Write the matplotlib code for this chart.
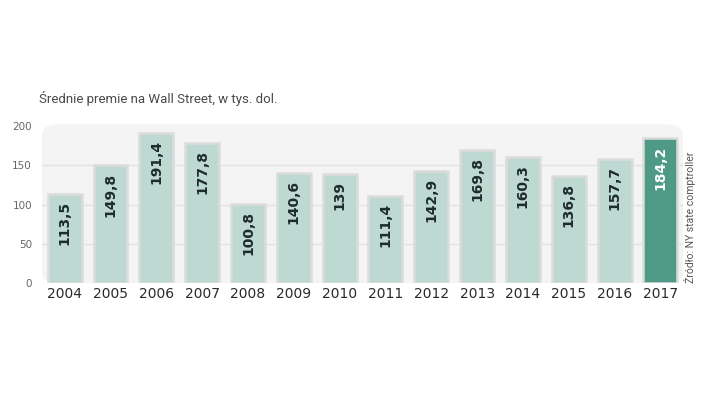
import matplotlib.pyplot as plt
from matplotlib import font_manager
from matplotlib.patches import FancyBboxPatch

years = ["2004", "2005", "2006", "2007", "2008", "2009", "2010",
         "2011", "2012", "2013", "2014", "2015", "2016", "2017"]
bonus = [113.5, 149.8, 191.4, 177.8, 100.8, 140.6, 139,
         111.4, 142.9, 169.8, 160.3, 136.8, 157.7, 184.2]
labels = ["113,5", "149,8", "191,4", "177,8", "100,8", "140,6", "139",
          "111,4", "142,9", "169,8", "160,3", "136,8", "157,7", "184,2"]

light = "#bed9d1"
dark = "#4f9a87"

names = {f.name for f in font_manager.fontManager.ttflist}
cond = "DejaVu Sans"
for cand in ["DejaVu Sans Condensed", "Liberation Sans Narrow"]:
    if cand in names:
        cond = cand
        break

fig = plt.figure(figsize=(7.2, 4.05), dpi=100)
ax = fig.add_axes([0.058, 0.301, 0.891, 0.392])
ax.set_xlim(-0.5, len(years) - 0.5)
ax.set_ylim(0, 202)

# rounded grey panel
ax.patch.set_visible(False)
bg = FancyBboxPatch((0, 0), 1, 1, boxstyle="round,pad=0,rounding_size=0.03",
                    transform=ax.transAxes, facecolor="#f4f4f4",
                    edgecolor="none", zorder=0, mutation_aspect=2.3)
ax.add_patch(bg)

for y in [50, 100, 150]:
    ax.axhline(y, color="#e2e2e2", lw=1, zorder=1)

x = range(len(years))
colors = [light] * (len(years) - 1) + [dark]
ax.bar(x, bonus, width=0.74, color=colors, edgecolor="#dcdcdc",
       linewidth=1.8, zorder=2)

for i, (v, lab) in enumerate(zip(bonus, labels)):
    ax.text(i, v - 9, lab, rotation=90, ha="center", va="top",
            fontsize=9 if cond == "DejaVu Sans Condensed" else 10,
            fontweight="bold", family=cond,
            color="white" if i == len(years) - 1 else "#1e2b2b", zorder=3)

ax.set_xticks(list(x))
ax.set_xticklabels(years, fontsize=10, color="#2a2a2a")
ax.set_yticks([0, 50, 100, 150, 200])
ax.tick_params(axis="y", labelsize=7.5, colors="#666666", length=0, pad=7)
ax.tick_params(axis="x", length=0, pad=3)
for s in ax.spines.values():
    s.set_visible(False)

fig.text(0.054, 0.745, "Średnie premie na Wall Street, w tys. dol.",
         fontsize=9.5, color="#4a4a4a", family="Roboto")
fig.text(0.958, 0.302, "Źródło: NY state comptroller", rotation=90,
         fontsize=7.5, color="#555555", ha="center", va="bottom",
         family="Roboto")

fig.savefig("out.png", dpi=100)
